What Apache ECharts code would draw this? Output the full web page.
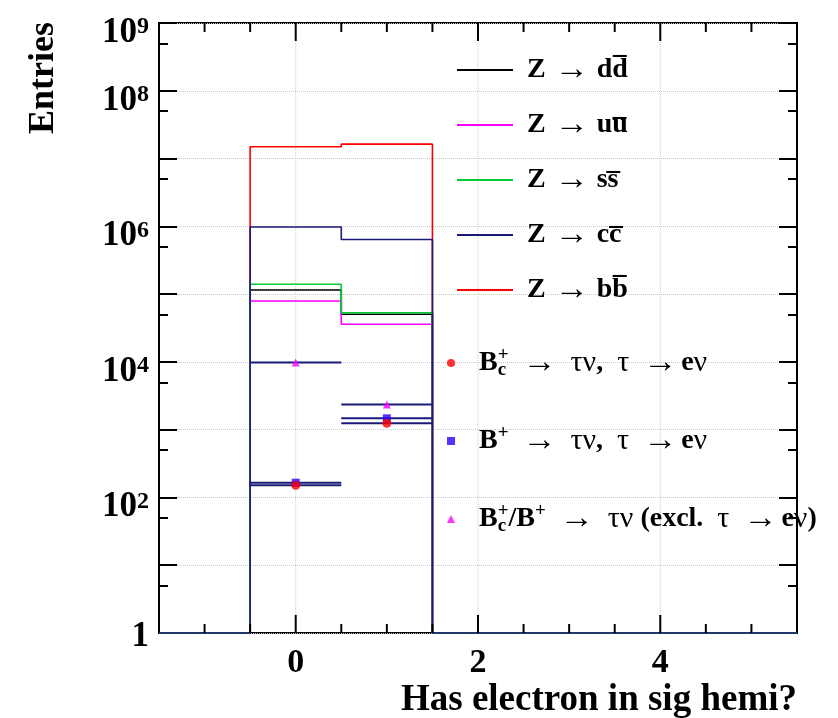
<!DOCTYPE html>
<html>
<head>
<meta charset="utf-8">
<script src="https://cdn.jsdelivr.net/npm/echarts@6/dist/echarts.min.js"></script>
<style>
  html, body { margin: 0; padding: 0; background: #ffffff; }
  #chart { width: 838px; height: 718px; }
</style>
</head>
<body>
<div id="chart"></div>
<script>
// ---- binning -------------------------------------------------------------
const binCenters = [-1, 0, 1, 2, 3, 4, 5];
const binWidth = 1;

// ---- background: Z -> q qbar, entries per bin ------------------------------
const zToDD = [0, 1.15e5, 5.05e4, 0, 0, 0, 0];
const zToUU = [0, 7.9e4, 3.6e4, 0, 0, 0, 0];
const zToSS = [0, 1.40e5, 5.3e4, 0, 0, 0, 0];
const zToCC = [0, 9.8e5, 6.4e5, 0, 0, 0, 0];
const zToBB = [0, 1.49e7, 1.63e7, 0, 0, 0, 0];

// ---- signal samples, drawn as markers at the bin centres -------------------
const sigCenters = [0, 1];
const bcTauE = [151, 1240];
const buTauE = [165, 1470];
const bTauOther = [9800, 2360];

// ---- axis decoration ------------------------------------------------------
const xMajorTicks = [0, 2, 4];
const xMinorTicks = [-1, -0.5, 0.5, 1, 1.5, 2.5, 3, 3.5, 4.5, 5];
const yLabelDecades = [0, 2, 4, 6, 8, 9];
const yMinorExp = [0.699, 1.699, 2.699, 3.699, 4.699, 5.699, 6.699, 7.699, 8.699];

const X_MIN = -1.5, X_MAX = 5.5;
const Y_MIN = 1, Y_MAX = 1e9;
const FONT = "'Liberation Serif', 'Times New Roman', 'DejaVu Serif', serif";
const NAVY = '#1a1a78';

// Step outline of a histogram; empty bins sit on the lower edge of the log axis
function histSteps(values) {
  const pts = [];
  values.forEach((v, i) => {
    const lo = binCenters[i] - binWidth / 2;
    const y = Math.max(v, Y_MIN);
    pts.push([lo, y], [lo + binWidth, y]);
  });
  return pts;
}

function histSeries(name, values, color, z) {
  return {
    name, type: 'line', xAxisIndex: 0, yAxisIndex: 0,
    data: histSteps(values), symbol: 'none', showSymbol: false,
    color, itemStyle: { color }, lineStyle: { color, width: 1.6 },
    clip: false, z, animation: false, silent: true
  };
}

// Horizontal bar spanning the bin behind each signal marker
function errSeries(values, z) {
  return {
    type: 'custom', xAxisIndex: 0, yAxisIndex: 0,
    data: sigCenters.map((x, i) => [x, values[i]]),
    encode: { x: 0, y: 1 },
    renderItem(params, api) {
      const x = api.value(0), y = api.value(1);
      const a = api.coord([x - binWidth / 2, y]);
      const b = api.coord([x + binWidth / 2, y]);
      return { type: 'line', shape: { x1: a[0], y1: a[1], x2: b[0], y2: b[1] },
               style: { stroke: NAVY, lineWidth: 2 } };
    },
    z, silent: true, animation: false
  };
}

function markerSeries(name, values, symbol, size, color, z) {
  return {
    name, type: 'scatter', xAxisIndex: 0, yAxisIndex: 0,
    data: sigCenters.map((x, i) => [x, values[i]]),
    symbol, symbolSize: size, itemStyle: { color }, color,
    z, silent: true, animation: false
  };
}

// Inward x ticks on the bottom and top frame edges, drawn as thin bars
function xTickSeries(values, len) {
  return {
    type: 'custom', xAxisIndex: 0, yAxisIndex: 0,
    data: values.map(v => [v, Math.sqrt(Y_MIN * Y_MAX)]), encode: { x: 0, y: 1 },
    renderItem(params, api) {
      const px = api.coord([api.value(0), api.value(1)])[0];
      const cs = params.coordSys;
      return {
        type: 'group',
        children: [
          { type: 'rect', shape: { x: px - 1, y: cs.y + cs.height - len, width: 2, height: len }, style: { fill: '#000' } },
          { type: 'rect', shape: { x: px - 1, y: cs.y, width: 2, height: len }, style: { fill: '#000' } }
        ]
      };
    },
    zlevel: 1, z: 10, silent: true, animation: false
  };
}

// Dotted vertical grid line at a labelled x value
function xGridLine(v) {
  return {
    type: 'line', xAxisIndex: 0, yAxisIndex: 0,
    data: [[v, Y_MIN], [v, Y_MAX]], symbol: 'none', showSymbol: false,
    lineStyle: { color: '#c8c8c8', type: 'dotted', width: 1 },
    z: 1, silent: true, animation: false
  };
}

function tickLine() { return { color: '#000', width: 2 }; }
function gridLine() { return { show: true, lineStyle: { color: '#c8c8c8', type: 'dotted', width: 1 } }; }

function yDeco(position, opts) {
  return Object.assign({
    type: 'value', min: 0, max: 9, interval: 1, position,
    axisLine: { show: false, onZero: false },
    axisTick: { show: true, inside: true, length: 18, lineStyle: tickLine() },
    axisLabel: { show: false },
    splitLine: { show: false }
  }, opts);
}

const legendLabels = {
  'dd': '{t|Z}{a|\u2192}{t|dd\u0305}',
  'uu': '{t|Z}{a|\u2192}{t|uu\u0305}',
  'ss': '{t|Z}{a|\u2192}{t|ss\u0305}',
  'cc': '{t|Z}{a|\u2192}{t|cc\u0305}',
  'bb': '{t|Z}{a|\u2192}{t|bb\u0305}',
  'bc': '{t|B}{sub|c}{sup|+}{a2|\u2192}{g|\u03c4\u03bd}{t|,}{g2|\u03c4}{a3|\u2192}{t|e}{g|\u03bd}',
  'bu': '{t|B}{sup|+}{a2|\u2192}{g|\u03c4\u03bd}{t|,}{g2|\u03c4}{a3|\u2192}{t|e}{g|\u03bd}',
  'bx': '{t|B}{sub|c}{sup|+}{t|/B}{sup|+}{a2|\u2192}{g|\u03c4\u03bd}{t| (excl.}{g2|\u03c4}{a3|\u2192}{t|e}{g|\u03bd}{t|)}'
};

const base = { fontFamily: FONT, fontSize: 28, lineHeight: 34, color: '#000' };
const legendRich = {
  t: Object.assign({}, base, { fontWeight: 'bold' }),
  a: Object.assign({}, base, { fontSize: 34, fontWeight: 'normal', padding: [0, 8, 0, 9] }),
  a2: Object.assign({}, base, { fontSize: 34, fontWeight: 'normal', padding: [0, 14, 0, 14] }),
  a3: Object.assign({}, base, { fontSize: 34, fontWeight: 'normal', padding: [0, 4, 0, 14] }),
  g: Object.assign({}, base, { fontSize: 30, fontWeight: 'normal' }),
  g2: Object.assign({}, base, { fontSize: 30, fontWeight: 'normal', padding: [0, 0, 0, 14] }),
  sup: { fontFamily: FONT, fontWeight: 'bold', fontSize: 19, lineHeight: 20, verticalAlign: 'top', color: '#000' },
  sub: { fontFamily: FONT, fontWeight: 'bold', fontSize: 19, lineHeight: 20, verticalAlign: 'bottom', width: 0.01, color: '#000' }
};

const legendText = {
  fontFamily: FONT, fontWeight: 'bold', fontSize: 28, lineHeight: 34, color: '#000',
  padding: [0, 0, 0, 9], rich: legendRich
};

const chart = echarts.init(document.getElementById('chart'), null, { renderer: 'canvas' });

chart.setOption({
  animation: false,
  backgroundColor: '#ffffff',
  grid: { left: 159, right: 41, top: 23, bottom: 85, show: true, borderColor: '#000', borderWidth: 2 },
  xAxis: [
    { type: 'value', min: X_MIN, max: X_MAX, position: 'bottom', show: false },
    {
      type: 'value', min: X_MIN, max: X_MAX, interval: 0.5, position: 'bottom',
      axisLine: { show: false, onZero: false },
      axisTick: { show: false },
      splitLine: { show: false },
      axisLabel: {
        show: true, customValues: xMajorTicks, margin: 13,
        fontFamily: FONT, fontWeight: 'bold', fontSize: 34, color: '#000'
      }
    }
  ],
  yAxis: [
    { type: 'log', logBase: 10, min: Y_MIN, max: Y_MAX, position: 'left', show: false },
    yDeco('left', {
      axisLabel: {
        show: true, customValues: yLabelDecades, margin: 10, padding: [8, 0, 0, 0],
        formatter: v => (v === 0 ? '{one|1}' : '{b|10}{sup|' + v + '}'),
        rich: {
          one: { fontFamily: FONT, fontWeight: 'bold', fontSize: 35, color: '#000' },
          b: { fontFamily: FONT, fontWeight: 'bold', fontSize: 35, color: '#000', padding: [12, 0, 0, 0] },
          sup: { fontFamily: FONT, fontWeight: 'bold', fontSize: 24, color: '#000' }
        }
      },
      splitLine: gridLine()
    }),
    yDeco('left', { axisTick: { show: true, inside: true, length: 9, lineStyle: tickLine(), customValues: yMinorExp } }),
    yDeco('right', {}),
    yDeco('right', { axisTick: { show: true, inside: true, length: 9, lineStyle: tickLine(), customValues: yMinorExp } })
  ],
  legend: [
    {
      data: ['dd', 'uu', 'ss', 'cc', 'bb'],
      orient: 'vertical', left: 457, top: 53, padding: 0,
      icon: 'rect', itemWidth: 56, itemHeight: 2, itemGap: 21,
      selectedMode: false, formatter: n => legendLabels[n], textStyle: legendText
    },
    {
      data: [{ name: 'bc', icon: 'circle' }, { name: 'bu', icon: 'rect' }, { name: 'bx', icon: 'triangle' }],
      orient: 'vertical', left: 447, top: 346, padding: 0,
      itemWidth: 8, itemHeight: 8, itemGap: 44,
      selectedMode: false, formatter: n => legendLabels[n],
      textStyle: Object.assign({}, legendText, { padding: [0, 0, 0, 19] })
    }
  ],
  series: [
    ...xMajorTicks.map(xGridLine),
    histSeries('bb', zToBB, '#ff0000', 2),
    histSeries('dd', zToDD, '#000000', 3),
    histSeries('uu', zToUU, '#ff00ff', 3),
    histSeries('ss', zToSS, '#00cc33', 3),
    histSeries('cc', zToCC, NAVY, 4),
    errSeries(bTauOther, 5),
    errSeries(buTauE, 5),
    errSeries(bcTauE, 5),
    markerSeries('bx', bTauOther, 'triangle', 8, '#ff00ff', 6),
    markerSeries('bu', buTauE, 'rect', 8, '#2a00ff', 6),
    markerSeries('bc', bcTauE, 'circle', 9, '#ff0000', 7),
    xTickSeries(xMajorTicks, 18),
    xTickSeries(xMinorTicks, 9)
  ],
  graphic: [
    {
      type: 'text', x: 26, y: 22, rotation: Math.PI / 2,
      style: { text: 'Entries', fontFamily: FONT, fontWeight: 'bold', fontSize: 36,
               fill: '#000', align: 'right', verticalAlign: 'top' }
    },
    {
      type: 'text', x: 797, y: 682,
      style: { text: 'Has electron in sig hemi?', fontFamily: FONT, fontWeight: 'bold', fontSize: 37,
               fill: '#000', align: 'right', verticalAlign: 'top' }
    }
  ]
});
</script>
</body>
</html>
